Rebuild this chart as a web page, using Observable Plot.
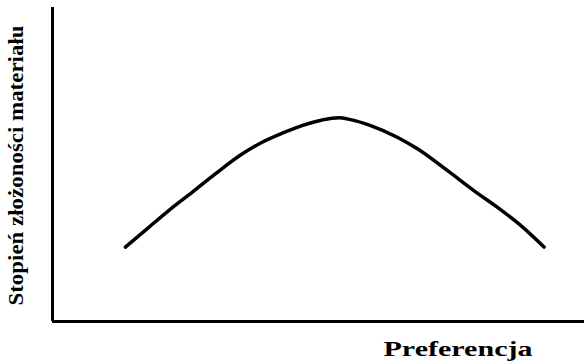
<!DOCTYPE html>
<html>
<head>
<meta charset="utf-8">
<script src="https://cdn.jsdelivr.net/npm/d3@7"></script>
<script src="https://cdn.jsdelivr.net/npm/@observablehq/plot@0.6"></script>
<style>
  html, body { margin: 0; padding: 0; background: #fff; }
  svg { display: block; }
  .lab text { font-family: "Liberation Serif", "Times New Roman", Times, serif !important; }
</style>
</head>
<body>
<div id="chart"></div>
<script>
const preference = [13.7, 18.1, 21.9, 26.3, 30.6, 35.7, 39.4, 43.2, 46.9, 50.7, 53.8, 56.0, 59.8, 64.8, 68.6, 74.2, 79.2, 83.6, 88.0, 92.4];
const complexity = [23.7, 30.0, 35.4, 41.2, 47.0, 53.4, 57.1, 60.0, 62.4, 64.2, 64.9, 64.3, 62.4, 58.7, 55.0, 48.1, 41.7, 36.4, 30.6, 23.7];
const yTitle = "Stopień złożoności materiału";
const xTitle = "Preferencja";

const data = preference.map((p, i) => ({x: p, y: complexity[i]}));

const svg = Plot.plot({
  width: 584,
  height: 363,
  marginLeft: 52,
  marginRight: 0,
  marginTop: 7,
  marginBottom: 42,
  x: {domain: [0, 100], axis: null},
  y: {domain: [0, 100], axis: null},
  marks: [
    Plot.ruleX([0], {y1: 0, y2: 100, stroke: "#000", strokeWidth: 3}),
    Plot.ruleY([0], {x1: 0, x2: 100, stroke: "#000", strokeWidth: 3}),
    Plot.line(data, {x: "x", y: "y", curve: "monotone-x", stroke: "#000", strokeWidth: 3.5}),
    Plot.text([yTitle], {
      text: d => d, frameAnchor: "bottom-left", dx: -30, dy: -16, rotate: -90,
      textAnchor: "start",
      fontFamily: "Liberation Serif", fontWeight: "bold", fontSize: 21, fill: "#000",
      className: "lab ylab"
    }),
    Plot.text([xTitle], {
      text: d => d, frameAnchor: "bottom-left", dx: 331, dy: 34, lineAnchor: "bottom",
      textAnchor: "start",
      fontFamily: "Liberation Serif", fontWeight: "bold", fontSize: 22, fill: "#000",
      className: "lab xlab"
    })
  ]
});

d3.select(svg).selectAll(".ylab text").attr("textLength", 280).attr("lengthAdjust", "spacingAndGlyphs");
d3.select(svg).selectAll(".xlab text").attr("textLength", 149).attr("lengthAdjust", "spacingAndGlyphs");

document.getElementById("chart").appendChild(svg);
</script>
</body>
</html>
